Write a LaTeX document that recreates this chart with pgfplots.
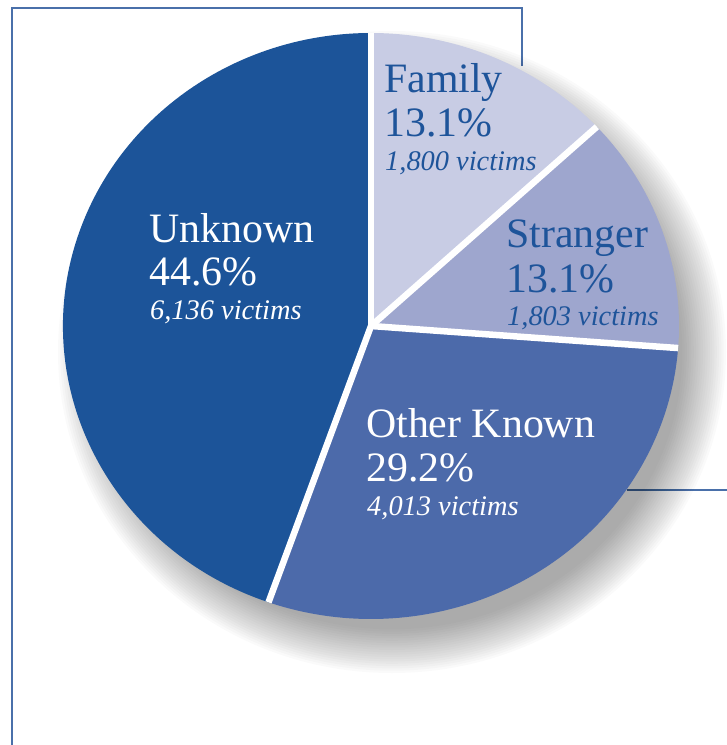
\documentclass[border=0pt]{standalone}
\usepackage{pgfplots}
\pgfplotsset{compat=1.18}
\usepackage{pgfplotstable}
\usepackage{fontspec}
\setmainfont{Liberation Serif}
\definecolor{cFam}{RGB}{200,204,228}
\definecolor{cStr}{RGB}{158,166,206}
\definecolor{cOth}{RGB}{76,106,170}
\definecolor{cUnk}{RGB}{28,84,153}
\definecolor{cTxt}{RGB}{30,84,154}
\definecolor{cLine}{RGB}{74,112,170}

\pgfplotstableread{
label pct victims
Family 13.1 1800
Stranger 13.1 1803
OtherKnown 29.2 4013
Unknown 44.6 6136
}\pietable

\newcommand\lblbig{\fontsize{42}{42}\selectfont}
\newcommand\lblsmall{\fontsize{28.5}{28.5}\selectfont\itshape}

\begin{document}
\begin{tikzpicture}
\pgfplotstablegetelem{0}{pct}\of\pietable \let\pA\pgfplotsretval
\pgfplotstablegetelem{1}{pct}\of\pietable \let\pB\pgfplotsretval
\pgfplotstablegetelem{2}{pct}\of\pietable \let\pC\pgfplotsretval
\pgfplotstablegetelem{3}{pct}\of\pietable \let\pD\pgfplotsretval
\pgfmathsetmacro\aA{90}
\pgfmathsetmacro\aB{\aA-3.6*\pA}
\pgfmathsetmacro\aC{\aB-3.6*\pB}
\pgfmathsetmacro\aD{\aC-3.6*\pC}
\pgfmathsetmacro\aE{\aD-3.6*\pD}
\path[use as bounding box] (0,0) rectangle (727bp,745bp);
\begin{axis}[at={(0,0)},anchor=south west,width=727bp,height=745bp,scale only axis,hide axis,
  xmin=0,xmax=727,ymin=0,ymax=745,y dir=reverse,enlargelimits=false,clip=false]
% frame lines
\draw[cLine,line width=1.6bp] (axis cs:12,745) -- (axis cs:12,8) -- (axis cs:522,8) -- (axis cs:522,66);
\draw[cLine,line width=1.6bp] (axis cs:627,490) -- (axis cs:727,490);
% shadow
\pgfplotsinvokeforeach{0,...,19}{
  \fill[black,fill opacity=0.019] (axis cs:392,352) ellipse [x radius={334bp-2.3bp*#1}, y radius={321bp-2.3bp*#1}];
}
% wedges
\fill[cFam] (axis cs:371,326) -- ++(\aA:308bp and 293bp) arc[start angle=\aA, end angle=\aB, x radius=308bp, y radius=293bp] -- cycle;
\fill[cStr] (axis cs:371,326) -- ++(\aB:308bp and 293bp) arc[start angle=\aB, end angle=\aC, x radius=308bp, y radius=293bp] -- cycle;
\fill[cOth] (axis cs:371,326) -- ++(\aC:308bp and 293bp) arc[start angle=\aC, end angle=\aD, x radius=308bp, y radius=293bp] -- cycle;
\fill[cUnk] (axis cs:371,326) -- ++(\aD:308bp and 293bp) arc[start angle=\aD, end angle=\aE, x radius=308bp, y radius=293bp] -- cycle;
% separators
\draw[white,line width=6.5bp] (axis cs:371,326) -- ++(\aA:308bp and 293bp);
\draw[white,line width=6.5bp] (axis cs:371,326) -- ++(\aB:308bp and 293bp);
\draw[white,line width=6.5bp] (axis cs:371,326) -- ++(\aC:308bp and 293bp);
\draw[white,line width=6.5bp] (axis cs:371,326) -- ++(\aD:308bp and 293bp);
% labels
\node[anchor=base west,inner sep=0,text=cTxt] at (axis cs:384,93) {\lblbig Family};
\node[anchor=base west,inner sep=0,text=cTxt] at (axis cs:384,137) {\lblbig 13.1\%};
\node[anchor=base west,inner sep=0,text=cTxt] at (axis cs:385,170) {\lblsmall 1,800 victims};
\node[anchor=base west,inner sep=0,text=cTxt] at (axis cs:506,247) {\lblbig Stranger};
\node[anchor=base west,inner sep=0,text=cTxt] at (axis cs:506,292) {\lblbig 13.1\%};
\node[anchor=base west,inner sep=0,text=cTxt] at (axis cs:507,325) {\lblsmall 1,803 victims};
\node[anchor=base west,inner sep=0,text=white] at (axis cs:149,242) {\lblbig Unknown};
\node[anchor=base west,inner sep=0,text=white] at (axis cs:149,285) {\lblbig 44.6\%};
\node[anchor=base west,inner sep=0,text=white] at (axis cs:150,319) {\lblsmall 6,136 victims};
\node[anchor=base west,inner sep=0,text=white] at (axis cs:366,437) {\lblbig Other Known};
\node[anchor=base west,inner sep=0,text=white] at (axis cs:366,481) {\lblbig 29.2\%};
\node[anchor=base west,inner sep=0,text=white] at (axis cs:367,515) {\lblsmall 4,013 victims};
\end{axis}
\end{tikzpicture}
\end{document}
